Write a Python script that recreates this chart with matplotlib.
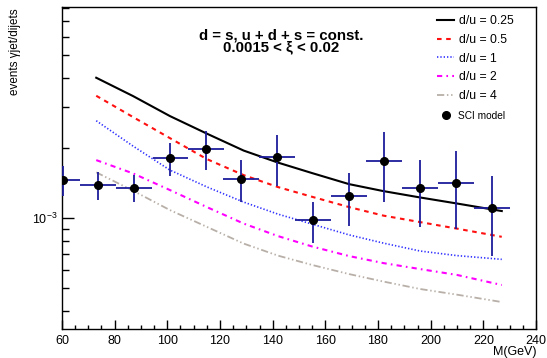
import numpy as np
import matplotlib
matplotlib.use('Agg')
import matplotlib.pyplot as plt
from matplotlib.ticker import MultipleLocator, LogLocator, NullFormatter

plt.rcParams['font.family'] = ['Liberation Sans', 'DejaVu Sans']
plt.rcParams['mathtext.fontset'] = 'custom'
plt.rcParams['mathtext.rm'] = 'Liberation Sans'

# SCI model points
m_pts = [60.2, 73.8, 87.4, 101.2, 114.6, 128.1, 141.7, 155.3, 168.9, 182.4, 196.1, 209.6, 223.2]
sci = [1.456e-3, 1.381e-3, 1.349e-3, 1.81e-3, 1.983e-3, 1.475e-3, 1.827e-3,
       0.978e-3, 1.247e-3, 1.751e-3, 1.345e-3, 1.417e-3, 1.100e-3]
sci_err = [0.21e-3, 0.19e-3, 0.18e-3, 0.30e-3, 0.38e-3, 0.30e-3, 0.45e-3,
           0.20e-3, 0.32e-3, 0.58e-3, 0.43e-3, 0.52e-3, 0.41e-3]
m_err = [6.8] * len(m_pts)

# model curves
m_curve = [73, 87, 101, 115, 129, 142, 155, 169, 182, 196, 210, 227]
du_025 = [4.005e-3, 3.34e-3, 2.741e-3, 2.305e-3, 1.949e-3, 1.731e-3,
          1.560e-3, 1.399e-3, 1.306e-3, 1.226e-3, 1.155e-3, 1.072e-3]
du_05 = [3.351e-3, 2.714e-3, 2.204e-3, 1.792e-3, 1.529e-3, 1.359e-3,
         1.234e-3, 1.115e-3, 1.025e-3, 0.961e-3, 0.901e-3, 0.831e-3]
du_1 = [2.618e-3, 2.037e-3, 1.607e-3, 1.361e-3, 1.171e-3, 1.040e-3,
        0.942e-3, 0.847e-3, 0.781e-3, 0.722e-3, 0.690e-3, 0.665e-3]
du_2 = [1.774e-3, 1.555e-3, 1.319e-3, 1.115e-3, 0.947e-3, 0.837e-3,
        0.755e-3, 0.687e-3, 0.641e-3, 0.604e-3, 0.570e-3, 0.516e-3]
du_4 = [1.572e-3, 1.310e-3, 1.082e-3, 0.917e-3, 0.777e-3, 0.690e-3,
        0.629e-3, 0.575e-3, 0.534e-3, 0.496e-3, 0.469e-3, 0.436e-3]

fig = plt.figure(figsize=(5.47, 3.58), dpi=100)
ax = fig.add_axes([62/547, 1 - 329/358, 474/547, 322.5/358])

ax.plot(m_curve, du_025, '-', color='black', lw=1.5, label='d/u = 0.25')
ax.plot(m_curve, du_05, color='#ff1010', lw=1.5, ls=(0, (2.2, 2.2)), label='d/u = 0.5')
ax.plot(m_curve, du_1, color='#3030ff', lw=1.2, ls=(0, (0.8, 1.2)), label='d/u = 1')
ax.plot(m_curve, du_2, color='#ff00ff', lw=1.5, ls=(0, (2.5, 2, 0.8, 2)), label='d/u = 2')
ax.plot(m_curve, du_4, color='#b8b0a8', lw=1.3, ls=(0, (4, 1.5, 0.8, 1.5, 0.8, 1.5)), label='d/u = 4')

ax.errorbar(m_pts, sci, yerr=sci_err, xerr=m_err, fmt='none', ecolor='#1c1c9c',
            elinewidth=1.3, capsize=0, zorder=3)
pts, = ax.plot(m_pts, sci, 'o', color='black', ms=5.5, zorder=4, label='SCI model')

ax.set_yscale('log')
ax.set_xlim(60, 240)
ax.set_ylim(3.34e-4, 8.1e-3)

ax.xaxis.set_major_locator(MultipleLocator(20))
ax.xaxis.set_minor_locator(MultipleLocator(5))
ax.yaxis.set_major_locator(LogLocator(base=10))
ax.yaxis.set_minor_locator(LogLocator(base=10, subs=np.arange(2, 10)))
ax.yaxis.set_minor_formatter(NullFormatter())
ax.tick_params(axis='both', which='both', direction='in', top=False, right=False,
               labelsize=9, width=1)
ax.tick_params(axis='x', which='major', length=6.5, pad=4)
ax.tick_params(axis='x', which='minor', length=3.2)
ax.tick_params(axis='y', which='major', length=8.5, pad=3)
ax.tick_params(axis='y', which='minor', length=5)
for s in ax.spines.values():
    s.set_linewidth(1.0)

ax.set_xlabel('M(GeV)', fontsize=9, loc='right')
ax.xaxis.set_label_coords(1.0, -(355 - 329) / 322.5)
ax.xaxis.label.set_va('baseline')
ax.set_ylabel('events γjet/dijets', fontsize=8.4, loc='top')
ax.yaxis.set_label_coords((15 - 62) / 474, 1 - 1.5 / 322.5)
ax.yaxis.label.set_va('center')

fig.text(281/547, 1 - 41/358, 'd = s, u + d + s = const.\n0.0015 < ξ < 0.02',
         ha='center', va='center', multialignment='center', linespacing=0.8,
         fontsize=10.8, fontweight='bold')

handles, labels = ax.get_legend_handles_labels()
leg = ax.legend(handles[:5], labels[:5], loc='upper left',
                bbox_to_anchor=((437-62)/474, (329-15.5)/322.5),
                frameon=False, fontsize=8.8, borderpad=0, borderaxespad=0,
                handlelength=1.4, handletextpad=0.4, labelspacing=0.54)
ax.add_artist(leg)
ax.legend([pts], ['SCI model'], loc='upper left',
          bbox_to_anchor=((437-62)/474, (329-111)/322.5),
          frameon=False, fontsize=7.3, borderpad=0, borderaxespad=0,
          handlelength=1.7, handletextpad=0.4)

fig.savefig('out.png', dpi=100)
